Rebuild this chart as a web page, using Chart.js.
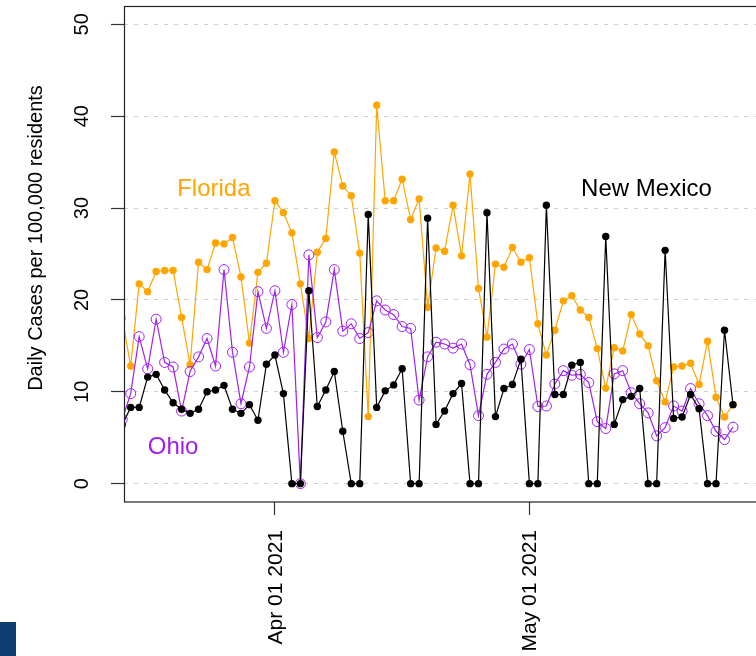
<!DOCTYPE html>
<html>
<head>
<meta charset="utf-8">
<title>Daily Cases per 100,000 residents</title>
<script src="https://cdn.jsdelivr.net/npm/chart.js@4.4.1/dist/chart.umd.min.js"></script>
<style>
  html, body { margin: 0; padding: 0; background: #fff; overflow: hidden; }
  #wrap { position: relative; width: 756px; height: 656px; overflow: hidden; }
  #chart { position: absolute; left: 0; top: 0; }
  .corner { position: absolute; left: 0; top: 622px; width: 16px; height: 34px; background: #0b3d6e; }
</style>
</head>
<body>
<div id="wrap">
  <canvas id="chart" width="790" height="656"></canvas>
  <div class="corner"></div>
</div>
<script>
// x values are days counted from Apr 01 2021; the first value is Mar 14 2021
const FIRST_DAY = -18;

const florida = [
  18.0, 12.8, 21.75, 20.9, 23.1, 23.2, 23.2, 18.1, 12.95, 24.1, 23.3, 26.2, 26.1, 26.8, 22.5, 15.3, 23.0, 24.0,
  30.8, 29.5, 27.3, 21.75, 15.8, 25.2, 26.7, 36.1, 32.4, 31.35, 25.1, 7.3, 41.2, 30.8, 30.8, 33.15, 28.75, 31.0,
  19.2, 25.65, 25.3, 30.3, 24.8, 33.7, 21.25, 15.95, 23.9, 23.55, 25.7, 24.1,
  24.6, 17.4, 14.0, 16.7, 19.9, 20.45, 18.9, 18.1, 14.7, 10.4, 14.8, 14.45, 18.4, 16.3, 15.0, 11.2, 8.9, 12.7,
  12.8, 13.1, 10.8, 15.5, 9.4, 7.25, 8.6
];

const ohio = [
  7.0, 9.8, 16.0, 12.5, 17.9, 13.2, 12.7, 7.9, 12.2, 13.8, 15.8, 12.8, 23.3, 14.3, 8.7, 12.7, 20.9, 16.9,
  21.0, 14.3, 19.5, 0, 24.9, 15.9, 17.6, 23.3, 16.6, 17.4, 15.8, 16.45, 19.9, 18.9, 18.4, 17.1, 16.9, 9.1,
  13.8, 15.4, 15.2, 14.75, 15.2, 12.95, 7.4, 11.9, 13.2, 14.65, 15.2, 13.0,
  14.6, 8.4, 8.45, 10.85, 12.3, 11.8, 11.9, 11.0, 6.75, 6.0, 11.95, 12.3, 9.9, 8.7, 7.7, 5.2, 6.1, 8.45,
  7.9, 10.35, 8.7, 7.4, 5.7, 4.8, 6.15
];

const newMexico = [
  6.4, 8.3, 8.3, 11.6, 11.9, 10.2, 8.8, 8.1, 7.65, 8.1, 10.0, 10.2, 10.7, 8.1, 7.65, 8.6, 6.9, 13.0,
  14.0, 9.8, 0, 0, 21.0, 8.4, 10.2, 12.2, 5.7, 0, 0, 29.3, 8.3, 10.1, 10.75, 12.5, 0, 0,
  28.9, 6.45, 7.9, 9.8, 10.9, 0, 0, 29.5, 7.3, 10.35, 10.8, 13.55,
  0, 0, 30.3, 9.7, 9.7, 12.9, 13.2, 0, 0, 26.9, 6.45, 9.15, 9.5, 10.35, 0, 0, 25.4, 7.1,
  7.25, 9.7, 8.15, 0, 0, 16.7, 8.6
];

const yTicks = [0, 10, 20, 30, 40, 50];
const xTicks = [0, 30];
const xTickLabels = ["Apr 01 2021", "May 01 2021"];
const yTitle = "Daily Cases per 100,000 residents";

const seriesNotes = [
  { text: "Florida", x: -7.2, y: 32, color: "#FFA500" },
  { text: "New Mexico", x: 43.8, y: 32, color: "#000000" },
  { text: "Ohio", x: -12, y: 4, color: "#A020F0" },
];

const FONT = '"Liberation Sans", Arial, Helvetica, sans-serif';

function toPoints(values) {
  return values.map((v, i) => ({ x: FIRST_DAY + i, y: v }));
}

function drawRotated(ctx, text, x, y, align) {
  ctx.save();
  ctx.translate(x, y);
  ctx.rotate(-Math.PI / 2);
  ctx.textAlign = align;
  ctx.textBaseline = "middle";
  ctx.fillText(text, 0, 0);
  ctx.restore();
}

// R-style frame, rotated axis labels and the in-plot series names
const baseGraphics = {
  id: "baseGraphics",
  afterDraw(chart) {
    const { ctx, chartArea, scales } = chart;
    const x = scales.x;
    const y = scales.y;
    ctx.save();

    ctx.strokeStyle = "#222";
    ctx.lineWidth = 1.2;
    ctx.strokeRect(chartArea.left + 0.5, chartArea.top + 0.5,
      chartArea.right - chartArea.left, chartArea.bottom - chartArea.top - 0.5);

    ctx.fillStyle = "#000";
    ctx.font = "20px " + FONT;
    yTicks.forEach((v) => drawRotated(ctx, String(v), 82, y.getPixelForValue(v), "center"));
    drawRotated(ctx, yTitle, 36, 238, "center");
    ctx.font = "21px " + FONT;
    xTicks.forEach((v, i) => drawRotated(ctx, xTickLabels[i], x.getPixelForValue(v) + 1, 530, "right"));

    ctx.font = "24px " + FONT;
    ctx.textAlign = "center";
    ctx.textBaseline = "middle";
    seriesNotes.forEach((n) => {
      ctx.fillStyle = n.color;
      ctx.fillText(n.text, x.getPixelForValue(n.x), y.getPixelForValue(n.y));
    });

    ctx.restore();
  },
};

new Chart(document.getElementById("chart"), {
  type: "line",
  data: {
    datasets: [
      {
        label: "New Mexico",
        data: toPoints(newMexico),
        borderColor: "#000000",
        borderWidth: 1.2,
        pointRadius: 3.7,
        pointBorderWidth: 0,
        pointBackgroundColor: "#000000",
        order: 0,
      },
      {
        label: "Ohio",
        data: toPoints(ohio),
        borderColor: "#A020F0",
        borderWidth: 1.2,
        pointRadius: 5,
        pointBorderWidth: 1,
        pointBorderColor: "#A020F0",
        pointBackgroundColor: "rgba(0,0,0,0)",
        order: 1,
      },
      {
        label: "Florida",
        data: toPoints(florida),
        borderColor: "#FFA500",
        borderWidth: 1.2,
        pointRadius: 3.7,
        pointBorderWidth: 0,
        pointBackgroundColor: "#FFA500",
        order: 2,
      },
    ],
  },
  options: {
    responsive: false,
    animation: false,
    events: [],
    layout: { padding: { top: 4, right: 14, left: 0, bottom: 0 } },
    elements: { line: { tension: 0, fill: false } },
    plugins: { legend: { display: false }, tooltip: { enabled: false } },
    scales: {
      x: {
        type: "linear",
        min: -17.79,
        max: 59.07,
        afterBuildTicks: (s) => { s.ticks = xTicks.map((v) => ({ value: v })); },
        afterFit: (s) => { s.height = 154; },
        ticks: { display: false },
        border: { display: false },
        grid: { drawOnChartArea: false, drawTicks: true, tickLength: 13, tickColor: "#333", tickWidth: 1.2 },
      },
      y: {
        type: "linear",
        min: -2,
        max: 52,
        afterBuildTicks: (s) => { s.ticks = yTicks.map((v) => ({ value: v })); },
        afterFit: (s) => { s.width = 124; },
        ticks: { display: false },
        border: { display: false, dash: [4, 6] },
        grid: { color: "#d0d0d0", lineWidth: 1, drawTicks: true, tickLength: 13, tickColor: "#333", tickWidth: 1.2, tickBorderDash: [] },
      },
    },
  },
  plugins: [baseGraphics],
});
</script>
</body>
</html>
